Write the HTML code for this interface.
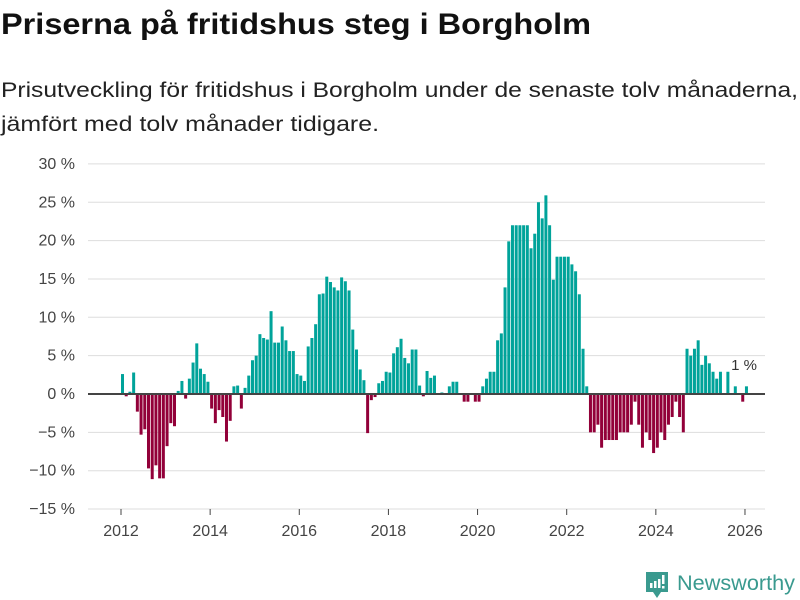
<!DOCTYPE html>
<html><head><meta charset="utf-8">
<style>
body{margin:0;background:#fff;}
svg{display:block;font-family:"Liberation Sans","DejaVu Sans",sans-serif;}
</style></head>
<body>
<svg id="chart" width="800" height="600" viewBox="0 0 800 600">
<text x="1" y="34" font-size="30" font-weight="bold" fill="#111" textLength="590" lengthAdjust="spacingAndGlyphs">Priserna på fritidshus steg i Borgholm</text>
<text x="1" y="97" font-size="21" fill="#222" textLength="797" lengthAdjust="spacingAndGlyphs">Prisutveckling för fritidshus i Borgholm under de senaste tolv månaderna,</text>
<text x="1" y="131" font-size="21" fill="#222" textLength="378" lengthAdjust="spacingAndGlyphs">jämfört med tolv månader tidigare.</text>
<g id="grid"></g>
<g id="bars"></g>
<g id="axes"></g>
<text x="744" y="370" font-size="15" fill="#333" text-anchor="middle">1 %</text>
<g>
<path d="M646 572 h22 v20 h-7 l-4 6 l-4 -6 h-7 z" fill="#3a9a8f"/>
<rect x="650" y="583" width="2.5" height="5" fill="#fff"/>
<rect x="654" y="581" width="2.5" height="7" fill="#fff"/>
<rect x="658" y="579" width="2.5" height="9" fill="#fff"/>
<rect x="662" y="575" width="2.5" height="9" fill="#fff"/>
<rect x="662" y="586" width="2.5" height="2.5" fill="#fff"/>
<text x="677" y="590" font-size="21" fill="#3a9a8f" textLength="118" lengthAdjust="spacingAndGlyphs">Newsworthy</text>
</g>
</svg>
<script>
const startYear = 2012;
const values = [
2.6,-0.3,0.3,2.8,-2.3,-5.3,-4.6,-9.7,-11.1,-9.3,-11,-11,
-6.8,-3.8,-4.2,0.4,1.7,-0.6,2.0,4.1,6.6,3.3,2.6,1.6,
-1.9,-3.8,-2.1,-3.0,-6.2,-3.5,1.0,1.1,-1.9,0.8,2.4,4.4,
5.0,7.8,7.3,7.1,10.8,6.7,6.7,8.8,7.0,5.6,5.6,2.6,
2.4,1.7,6.2,7.3,9.1,13.0,13.1,15.3,14.6,13.9,13.5,15.2,
14.7,13.5,8.4,5.8,3.2,1.8,-5.1,-0.8,-0.4,1.4,1.7,2.9,
2.8,5.3,6.1,7.2,4.7,4.0,5.8,5.8,1.1,-0.3,3.0,2.1,
2.4,0,0.2,0,1.0,1.6,1.6,0,-1.0,-1.0,0,-1.0,
-1.0,1.0,2.0,2.9,2.9,7.0,7.9,13.9,19.9,22,22,22,
22,22,19.0,20.9,25.0,22.9,25.9,22,14.9,17.9,17.9,17.9,
17.9,16.9,16.0,13.0,5.9,1.0,-5,-5,-4,-7,-6,-6,
-6,-6,-5,-5,-5,-4,-1,-4,-7,-5,-6,-7.7,
-7,-5,-6,-4,-3,-1,-3,-5,5.9,5.0,5.9,7.0,
3.8,5.0,4.0,2.9,2.0,2.9,0,2.9,0,1.0,0,-1.0,
1.0
];
const yTicks = [30,25,20,15,10,5,0,-5,-10,-15];
const xTickYears = [2012,2014,2016,2018,2020,2022,2024,2026];

const NS = "http://www.w3.org/2000/svg";
const y = v => 394 - v * 7.67;
const xMonth = i => 121 + i * 3.714;
const xYear = yr => 121 + (yr - startYear) * 44.57;
function mk(tag, attrs, parent){const e=document.createElementNS(NS,tag);for(const k in attrs)e.setAttribute(k,attrs[k]);parent.appendChild(e);return e;}
const grid=document.getElementById('grid'), bars=document.getElementById('bars'), axes=document.getElementById('axes');
yTicks.forEach(t=>{
  if(t!==0){
    const l=mk('line',{x1:88,x2:765,y1:y(t),y2:y(t),stroke:'#dddddd','stroke-width':1},grid);
    
    
  }
  const tx=mk('text',{x:75,y:y(t)+5,'font-size':16,fill:'#444','text-anchor':'end'},axes);
  tx.textContent=(t<0?'\u2212'+Math.abs(t):t)+' %';
  
  
});
values.forEach((v,i)=>{
  if(v===0)return;
  const top=v>0?y(v):y(0);
  const r=mk('rect',{x:xMonth(i),y:top,width:3,height:Math.abs(y(v)-y(0)),fill:v>0?'#00a39a':'#920039'},bars);
  
  
});
const zl=mk('line',{x1:88,x2:765,y1:y(0),y2:y(0),stroke:'#444','stroke-width':2},axes);


xTickYears.forEach(yr=>{
  const tk=mk('line',{x1:xYear(yr),x2:xYear(yr),y1:509,y2:515,stroke:'#444','stroke-width':1},axes);
  
  
  const tx=mk('text',{x:xYear(yr),y:536,'font-size':16,fill:'#444','text-anchor':'middle'},axes);
  tx.textContent=yr;
  
  
});
</script>
</body></html>
